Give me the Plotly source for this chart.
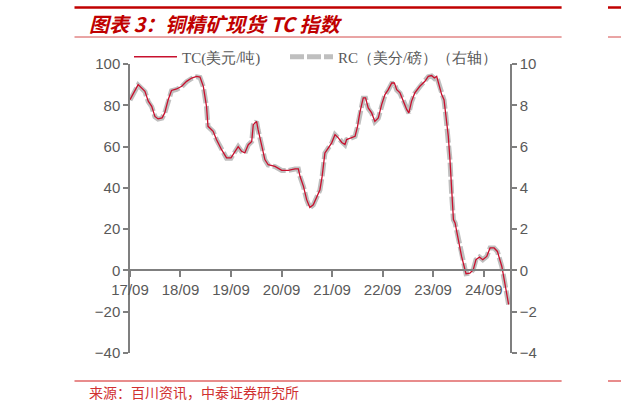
import plotly.graph_objects as go

dates = ["2017-09-01","2017-10-07","2017-10-30","2017-12-18","2018-01-11","2018-02-05","2018-02-28",
         "2018-03-23","2018-04-21","2018-05-10","2018-06-04","2018-06-28","2018-08-04","2018-09-10",
         "2018-10-15","2018-11-21","2018-12-27","2019-01-20","2019-02-13","2019-03-08","2019-03-19",
         "2019-04-25","2019-05-19","2019-06-25","2019-07-31","2019-09-01","2019-09-30","2019-10-23",
         "2019-11-17","2019-12-10","2020-01-04","2020-01-29","2020-02-09","2020-03-04","2020-03-15",
         "2020-04-09","2020-05-03","2020-05-27","2020-07-15","2020-09-02","2020-10-19","2020-12-07",
         "2020-12-31","2021-01-12","2021-02-06","2021-03-01","2021-03-24","2021-04-18","2021-05-12",
         "2021-06-05","2021-06-21","2021-07-11","2021-08-04","2021-08-29","2021-09-22","2021-10-16",
         "2021-11-10","2021-12-03","2021-12-15","2022-01-21","2022-02-14","2022-03-04","2022-03-20",
         "2022-04-14","2022-05-01","2022-05-20","2022-06-14","2022-07-07","2022-08-01","2022-08-25",
         "2022-09-18","2022-10-12","2022-11-06","2022-11-25","2022-12-12","2023-01-05","2023-01-29",
         "2023-02-23","2023-03-10","2023-03-29","2023-04-22","2023-05-28","2023-07-04","2023-07-28",
         "2023-08-21","2023-09-10","2023-09-27","2023-10-16","2023-11-02","2023-11-19","2023-12-03",
         "2023-12-20","2024-01-01","2024-01-14","2024-01-26","2024-02-07","2024-03-01","2024-03-25",
         "2024-04-26","2024-05-24","2024-06-17","2024-07-07","2024-08-01","2024-08-25","2024-09-23",
         "2024-10-17","2024-11-15","2024-12-09","2025-01-10","2025-01-27","2025-02-16","2025-02-28"]

tc_usd_t = [82.7,87.6,90.0,86.8,82.0,79.5,74.6,
            73.4,73.9,76.3,82.7,87.2,87.9,89.2,
            91.6,93.2,94.0,93.7,89.2,79.5,69.8,
            67.4,63.4,58.5,54.5,54.5,57.7,60.0,
            57.7,56.9,60.9,62.5,70.6,72.2,68.2,
            60.0,53.7,51.2,50.4,48.5,48.5,49.2,
            49.2,45.6,40.7,34.3,30.5,31.8,35.9,
            39.1,45.6,56.9,59.3,61.8,65.8,64.2,
            62.0,61.0,63.4,64.2,65.0,69.8,76.3,
            83.6,83.6,78.7,76.3,72.2,73.9,80.3,
            85.2,87.6,90.8,90.8,87.6,86.0,81.9,
            77.9,76.3,81.9,86.0,89.2,91.6,94.0,
            94.4,93.2,94.0,89.2,85.2,82.7,74.6,
            65.0,53.7,36.0,24.6,23.0,14.9,6.8,
            -1.6,-1.3,0.3,5.2,6.5,5.2,6.8,
            10.9,10.9,9.2,1.9,-4.5,-12.6,-16.5]

rc_cent_lb = [8.25,8.74,8.98,8.66,8.18,7.93,7.45,
              7.33,7.38,7.62,8.25,8.70,8.77,8.90,
              9.14,9.30,9.38,9.35,8.90,7.93,6.97,
              6.73,6.33,5.84,5.44,5.44,5.76,5.99,
              5.76,5.68,6.08,6.24,7.05,7.21,6.81,
              5.99,5.36,5.11,5.03,4.84,4.84,4.91,
              4.91,4.55,4.06,3.42,3.04,3.17,3.58,
              3.90,4.55,5.68,5.92,6.17,6.57,6.41,
              6.19,6.09,6.33,6.41,6.49,6.97,7.62,
              8.34,8.34,7.85,7.62,7.21,7.38,8.01,
              8.50,8.74,9.06,9.06,8.74,8.58,8.17,
              7.77,7.62,8.17,8.58,8.90,9.14,9.38,
              9.42,9.30,9.38,8.90,8.50,8.25,7.45,
              6.49,5.36,3.59,2.45,2.30,1.49,0.68,
              -0.16,-0.13,0.03,0.52,0.65,0.52,0.68,
              1.09,1.09,0.92,0.19,-0.45,-1.26,-1.65]

tick_vals = ["2017-09-01","2018-09-01","2019-09-01","2020-09-01","2021-09-01",
             "2022-09-01","2023-09-01","2024-09-01"]
tick_text = ["17/09","18/09","19/09","20/09","21/09","22/09","23/09","24/09"]

name_tc = "TC(美元/吨)"
name_rc = "RC（美分/磅）（右轴）"

W, H = 621, 407
L, R, T, B = 130, 510, 64, 353

def px(x):
    return (x - L) / (R - L)

def py(y):
    return (B - y) / (B - T)

AX = "#7F7F7F"
TXT = "#595959"
RED = "#C8102E"

fig = go.Figure()
# RC on the base (right-side) axis so that TC, on the overlaying left axis, is drawn on top
fig.add_trace(go.Scatter(x=dates, y=rc_cent_lb, name=name_rc, mode="lines", yaxis="y",
                         line=dict(color="#BFBFBF", width=5, dash="14px,3px"), legend="legend2"))
fig.add_trace(go.Scatter(x=dates, y=tc_usd_t, name=name_tc, mode="lines", yaxis="y2",
                         line=dict(color=RED, width=1.3), legend="legend"))

tickfont = dict(family="Liberation Sans, Arial", size=15, color=TXT)

fig.update_layout(
    width=W, height=H,
    margin=dict(l=L, r=W - R, t=T, b=H - B, pad=0, autoexpand=False),
    paper_bgcolor="white", plot_bgcolor="white",
    showlegend=True,
    xaxis=dict(type="date", range=["2017-09-01", "2025-03-10"], tickvals=tick_vals, ticktext=tick_text,
               anchor="free", position=40 / 140, showline=True, linecolor=AX, linewidth=1.5,
               ticks="outside", ticklen=6, tickcolor=AX, tickwidth=1.5, showgrid=False, zeroline=False,
               tickfont=tickfont),
    yaxis=dict(range=[-4, 10], dtick=2, side="right", anchor="x",
               showline=True, linecolor=AX, linewidth=1.5, ticks="outside", ticklen=5,
               tickcolor=AX, tickwidth=1.5, showgrid=False, zeroline=False, tickfont=tickfont),
    yaxis2=dict(range=[-40, 100], dtick=20, overlaying="y", side="left", anchor="x",
                showline=True, linecolor=AX, linewidth=1.5,
                ticks="outside", ticklen=5, tickcolor=AX, tickwidth=1.5, showgrid=False, zeroline=False,
                tickfont=tickfont),
    legend=dict(x=px(129), y=py(57), xanchor="left", yanchor="middle", orientation="h",
                bgcolor="rgba(0,0,0,0)", font=dict(family="Liberation Serif, Times New Roman", size=15, color=TXT),
                itemwidth=43),
    legend2=dict(x=px(285), y=py(57), xanchor="left", yanchor="middle", orientation="h",
                 bgcolor="rgba(0,0,0,0)", font=dict(family="Liberation Serif, Times New Roman", size=15, color=TXT),
                 itemwidth=43),
)

shapes = []
def hline(x0, x1, y, color, w):
    shapes.append(dict(type="line", xref="paper", yref="paper", x0=px(x0), x1=px(x1), y0=py(y), y1=py(y),
                       line=dict(color=color, width=w)))

hline(74.5, 561.6, 7.5, "#C00000", 2.5)
hline(608, 621, 7.5, "#C00000", 2.5)
hline(74.5, 561.6, 37, "#D44B4B", 1)
hline(608, 621, 37, "#D44B4B", 1)
hline(74.5, 561.6, 381, "#E06666", 1.5)
hline(608, 621, 381, "#E06666", 1.5)
fig.update_layout(shapes=shapes)

fig.add_annotation(xref="paper", yref="paper", x=px(87), y=py(23), xanchor="left", yanchor="middle",
                   text="<b><i>图表 3：铜精矿现货 TC 指数</i></b>", showarrow=False,
                   font=dict(family="Noto Sans CJK SC", size=20, color="#C00000"))
fig.add_annotation(xref="paper", yref="paper", x=px(87), y=py(392), xanchor="left", yanchor="middle",
                   text="来源：百川资讯，中泰证券研究所", showarrow=False,
                   font=dict(family="Noto Sans CJK SC", size=14, color="#D03030"))

fig.write_html("out.html", config={"displayModeBar": False},
               post_script="document.body.style.margin='0px';document.body.style.overflow='hidden';")
